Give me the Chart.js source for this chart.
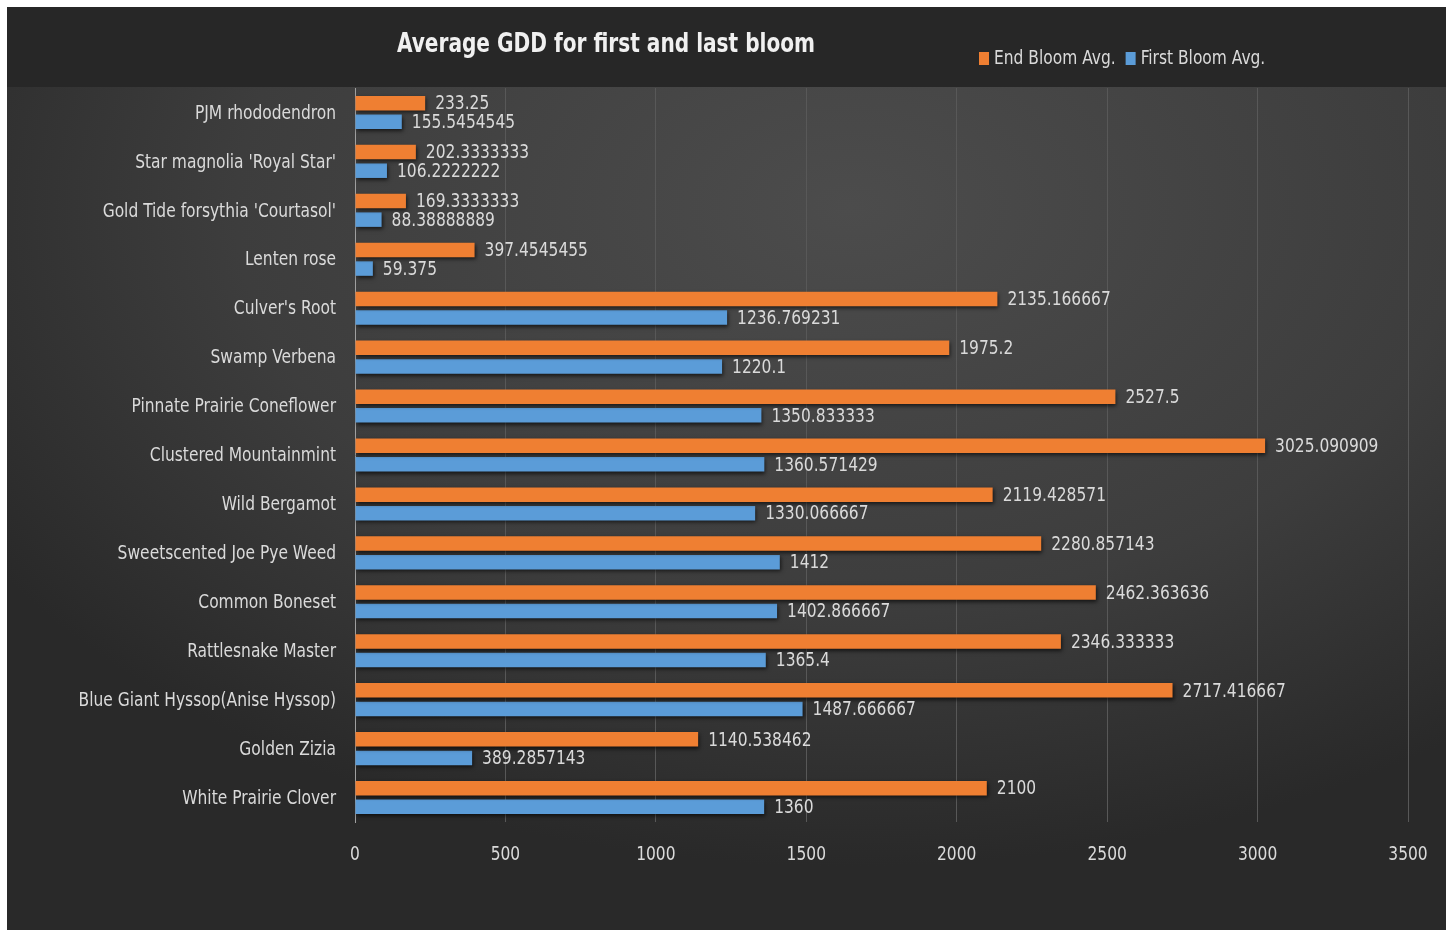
<!DOCTYPE html>
<html>
<head>
<meta charset="utf-8">
<script src="https://cdn.jsdelivr.net/npm/chart.js@4.4.1/dist/chart.umd.min.js"></script>
<style>
  html, body { margin: 0; padding: 0; background: #ffffff; }
  #wrap { position: absolute; left: 7px; top: 7px; width: 1439px; height: 923px; }
</style>
</head>
<body>
<div id="wrap"><canvas id="chartGdd"></canvas></div>
<script>
const plantas = ['PJM rhododendron', "Star magnolia 'Royal Star'", "Gold Tide forsythia 'Courtasol'", 'Lenten rose',
    "Culver's Root", 'Swamp Verbena', 'Pinnate Prairie Coneflower', 'Clustered Mountainmint', 'Wild Bergamot',
    'Sweetscented Joe Pye Weed', 'Common Boneset', 'Rattlesnake Master', 'Blue Giant Hyssop(Anise Hyssop)',
    'Golden Zizia', 'White Prairie Clover'];
const endBloom = [233.25, 202.3333333, 169.3333333, 397.4545455, 2135.166667, 1975.2, 2527.5, 3025.090909,
    2119.428571, 2280.857143, 2462.363636, 2346.333333, 2717.416667, 1140.538462, 2100];
const firstBloom = [155.5454545, 106.2222222, 88.38888889, 59.375, 1236.769231, 1220.1, 1350.833333, 1360.571429,
    1330.066667, 1412, 1402.866667, 1365.4, 1487.666667, 389.2857143, 1360];
const tituloGrafico = 'Average GDD for first and last bloom';

const FONT = "'DejaVu Sans Condensed', 'DejaVu Sans', sans-serif";
const TEXT = '#dadada';
const ANCHO = 0.86; // la fuente del original es mas estrecha

// texto comprimido en horizontal
function texto(ctx, str, x, y, align) {
    ctx.save();
    ctx.translate(x, y);
    ctx.scale(ANCHO, 1);
    ctx.textAlign = align;
    ctx.fillText(str, 0, 0);
    ctx.restore();
}

// fondo oscuro con banda superior y degradado radial
const fondo = {
    id: 'fondo',
    beforeDraw(chart) {
        const ctx = chart.ctx, w = chart.width, h = chart.height;
        ctx.save();
        ctx.fillStyle = '#272727';
        ctx.fillRect(0, 0, w, h);
        ctx.beginPath();
        ctx.rect(0, 80, w, h - 80);
        ctx.clip();
        ctx.translate(843, 200);
        ctx.scale(1.55, 1);
        const g = ctx.createRadialGradient(0, 0, 0, 0, 0, 660);
        g.addColorStop(0, '#4c4c4c');
        g.addColorStop(0.6, '#3d3d3d');
        g.addColorStop(1, '#292929');
        ctx.fillStyle = g;
        ctx.fillRect(-843, -200, w, h);
        ctx.restore();
    }
};

const sombras = {
    id: 'sombras',
    beforeDatasetsDraw(chart) {
        const ctx = chart.ctx;
        ctx.save();
        ctx.shadowColor = 'rgba(0,0,0,0.65)';
        ctx.shadowBlur = 4;
        ctx.shadowOffsetX = 1;
        ctx.shadowOffsetY = 2;
    },
    afterDatasetsDraw(chart) {
        chart.ctx.restore();
    }
};

// etiquetas de ejes, valores, titulo y leyenda
const textos = {
    id: 'textos',
    afterDatasetsDraw(chart) {
        const ctx = chart.ctx;
        ctx.save();
        ctx.font = '20px ' + FONT;
        ctx.fillStyle = TEXT;
        ctx.textBaseline = 'middle';
        chart.data.datasets.forEach((ds, i) => {
            chart.getDatasetMeta(i).data.forEach((bar, j) => {
                texto(ctx, String(ds.data[j]), bar.x + 10, bar.y + 1, 'left');
            });
        });
        const sy = chart.scales.y;
        sy.ticks.forEach((t, i) => {
            texto(ctx, plantas[i], sy.right - 19, sy.getPixelForTick(i) + 1, 'right');
        });
        const sx = chart.scales.x;
        sx.ticks.forEach((t, i) => {
            texto(ctx, String(t.value), sx.getPixelForTick(i), 848, 'center');
        });
        ctx.restore();
    },
    afterDraw(chart) {
        const ctx = chart.ctx;
        ctx.save();
        ctx.textBaseline = 'middle';
        ctx.fillStyle = '#f0f0f0';
        ctx.font = 'bold 26px ' + FONT;
        texto(ctx, tituloGrafico, 599, 38, 'center');

        ctx.font = '20px ' + FONT;
        let x = 972;
        chart.data.datasets.forEach(ds => {
            ctx.fillStyle = ds.backgroundColor;
            ctx.fillRect(x, 45, 10, 13);
            ctx.fillStyle = TEXT;
            texto(ctx, ds.label, x + 15, 52, 'left');
            x += 15 + ctx.measureText(ds.label).width * ANCHO + 10;
        });
        ctx.restore();
    }
};

new Chart(document.getElementById('chartGdd').getContext('2d'), {
    type: 'bar',
    data: {
        labels: plantas,
        datasets: [
            { label: 'End Bloom Avg.', data: endBloom, backgroundColor: '#ef7f32' },
            { label: 'First Bloom Avg.', data: firstBloom, backgroundColor: '#5b9cd8' }
        ]
    },
    options: {
        indexAxis: 'y',
        responsive: true,
        maintainAspectRatio: false,
        animation: false,
        categoryPercentage: 0.76,
        barPercentage: 0.78,
        layout: { padding: { top: 81, right: 38, left: 0, bottom: 0 } },
        plugins: {
            legend: { display: false },
            title: { display: false },
            tooltip: { enabled: false }
        },
        scales: {
            x: {
                min: 0,
                max: 3500,
                ticks: { stepSize: 500, display: false },
                grid: {
                    drawTicks: false,
                    color: ctx => ctx.tick && ctx.tick.value === 0 ? 'rgba(0,0,0,0)' : '#585858'
                },
                border: { display: false },
                afterFit: s => { s.height = 108; }
            },
            y: {
                ticks: { display: false },
                grid: { display: false, drawTicks: false },
                border: { display: true, color: '#a0a0a0', width: 1 },
                afterFit: s => { s.width = 348; }
            }
        }
    },
    plugins: [fondo, sombras, textos]
});
</script>
</body>
</html>
